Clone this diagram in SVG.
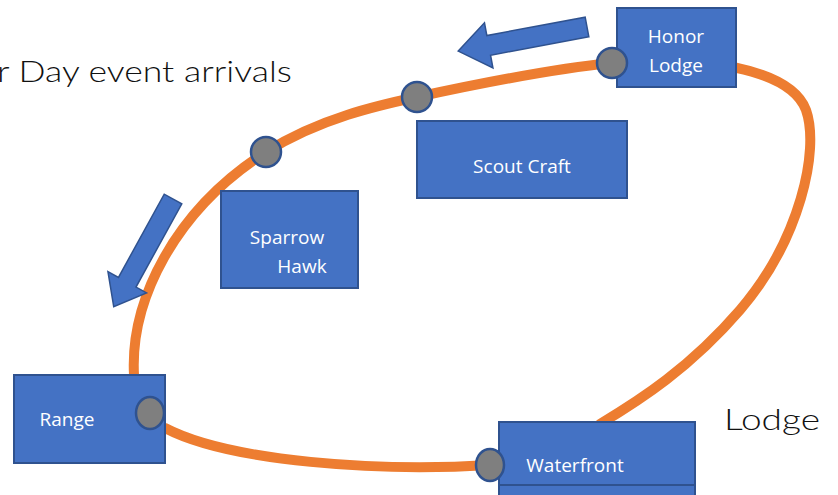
<svg xmlns="http://www.w3.org/2000/svg" width="838" height="495" viewBox="0 0 838 495">
<style>
.node{fill:#4472C4;stroke:#2F528F;stroke-width:2}
.lbl{fill:#fff;font-family:"Open Sans","Noto Sans",sans-serif;font-size:19px}
.dot{fill:#7F7F7F;stroke:#2F528F;stroke-width:2.5}
.track{fill:none;stroke:#ED7D31;stroke-width:10;stroke-linecap:round}
.arrow{fill:#4472C4;stroke:#2F528F;stroke-width:1.5}
.big{fill:#111;font-family:"Lato","DejaVu Sans",sans-serif;font-size:29px;font-weight:300}
</style>
<rect width="838" height="495" fill="#fff"/>
<g id="connectors">
<path class="track" d="M612,63 C700,55 790,68 806,110 C820,150 800,240 740,310 C690,368 640,400 600,424"/>
<path class="track" d="M490,465 C380,472 230,462 165,428"/>
<path class="track" d="M134,375 C130,300 175,210 266,152 C320,118 380,105 417,97 C500,79 560,68 612,63"/>
</g>
<text class="big" x="-3" y="82" textLength="295" lengthAdjust="spacingAndGlyphs">r Day event arrivals</text>
<text class="big" x="724" y="430" textLength="96" lengthAdjust="spacingAndGlyphs">Lodge</text>
<g id="arrow-top">
<polygon class="arrow" transform="translate(587,27) rotate(169.4)" points="0,-10 100,-10 100,-23 131,0 100,23 100,10 0,10"/>
</g>
<g id="arrow-left">
<polygon class="arrow" transform="translate(173,199) rotate(118.8)" points="0,-10 95,-10 95,-22 123,0 95,22 95,10 0,10"/>
</g>
<g id="honor-lodge">
<rect class="node" x="617" y="8" width="119" height="79"/>
<text class="lbl" x="676" y="43" text-anchor="middle">Honor</text>
<text class="lbl" x="676" y="72" text-anchor="middle">Lodge</text>
</g>
<g id="scout-craft">
<rect class="node" x="417" y="121" width="210" height="77"/>
<text class="lbl" x="522" y="173" text-anchor="middle">Scout Craft</text>
</g>
<g id="sparrow-hawk">
<rect class="node" x="221" y="191" width="137" height="97"/>
<text class="lbl" x="287" y="244" text-anchor="middle">Sparrow</text>
<text class="lbl" x="302" y="273" text-anchor="middle">Hawk</text>
</g>
<g id="range">
<rect class="node" x="14" y="375" width="151" height="88"/>
<text class="lbl" x="67" y="426" text-anchor="middle">Range</text>
</g>
<g id="waterfront">
<rect class="node" x="499" y="485" width="196" height="14"/>
<rect class="node" x="499" y="422" width="196" height="63"/>
<text class="lbl" x="575" y="472" text-anchor="middle">Waterfront</text>
</g>
<g id="stops">
<circle class="dot" cx="612" cy="63" r="15"/>
<circle class="dot" cx="417" cy="97" r="15"/>
<circle class="dot" cx="266" cy="152" r="15"/>
<ellipse class="dot" cx="150" cy="413" rx="14" ry="16"/>
<ellipse class="dot" cx="490" cy="465" rx="14" ry="16"/>
</g>
</svg>
